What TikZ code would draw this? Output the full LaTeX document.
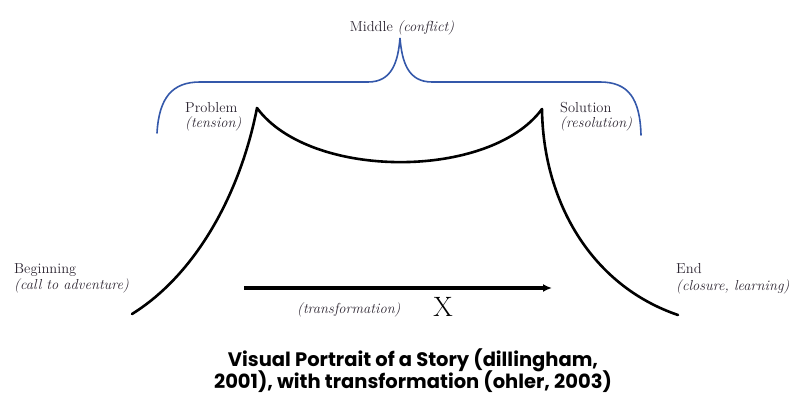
\documentclass[tikz,border=0pt]{standalone}
\usepackage{fontspec}
\newfontfamily\captionfont{Poppins}[Ligatures=NoCommon]
\usetikzlibrary{arrows.meta}
\definecolor{bracecol}{RGB}{52,88,170}
\definecolor{labelcol}{RGB}{45,38,50}
\tikzset{
  lbl/.style={inner sep=0pt, text=labelcol, font=\fontsize{14.5}{15}\selectfont},
  storyline/.style={line width=2.6pt, black, line cap=round, line join=round},
  bracket/.style={line width=1.6pt, bracecol, line cap=round},
  shiftarrow/.style={line width=3.2pt, -{Latex[length=9pt,width=8pt]}},
  caption/.style={inner sep=0pt, font=\captionfont\bfseries\fontsize{19.5}{21}\selectfont}
}
\begin{document}
\begin{tikzpicture}[x=1pt,y=-1pt]
\useasboundingbox (0,0) rectangle (790,396);

% the story curve: rise, sag through the middle, fall
\coordinate (start) at (132,314);
\coordinate (peakL) at (257,108);
\coordinate (peakR) at (542,109);
\coordinate (finish) at (678,315);
\draw[storyline] (start) .. controls (195,275) and (240,195) .. (peakL)
  .. controls (310,180) and (490,180) .. (peakR)
  .. controls (543,200) and (590,285) .. (finish);

% brace over the middle part
\coordinate (brL) at (157,133);
\coordinate (brTip) at (400,38);
\coordinate (brR) at (641,135);
\draw[bracket] (brL) .. controls (159,98) and (172,82) .. (200,82) -- (368,82)
  .. controls (392,82) and (398,62) .. (brTip)
  .. controls (402,62) and (408,82) .. (432,82) -- (600,82)
  .. controls (628,82) and (640,98) .. (brR);

% transformation arrow
\coordinate (arrS) at (244,288);
\coordinate (arrE) at (552,288);
\draw[shiftarrow] (arrS) -- (arrE);

% labels
\node[lbl, anchor=base] (middle) at (402,32) {Middle \textit{(conflict)}};
\node[lbl, anchor=base west] (problem) at (185,112) {Problem};
\node[lbl, anchor=base west] (tension) at (185,128) {\textit{(tension)}};
\node[lbl, anchor=base west] (solution) at (560,112) {Solution};
\node[lbl, anchor=base west] (resolution) at (560,128) {\textit{(resolution)}};
\node[lbl, anchor=base west] (beginning) at (14,273) {Beginning};
\node[lbl, anchor=base west] (call) at (14,289) {\textit{(call to adventure)}};
\node[lbl, anchor=base west] (endlbl) at (676,273) {End};
\node[lbl, anchor=base west] (closure) at (676,290) {\textit{(closure, learning)}};
\node[lbl, anchor=base west] (transf) at (297,313) {\textit{(transformation)}};
\node[inner sep=0pt, anchor=base, font=\fontsize{28}{30}\selectfont] (xmark) at (443,316) {X};

% caption
\node[caption, anchor=base] (cap1) at (413,366) {Visual Portrait of a Story (dillingham,};
\node[caption, anchor=base] (cap2) at (413,388) {2001), with transformation (ohler, 2003)};
\end{tikzpicture}
\end{document}
